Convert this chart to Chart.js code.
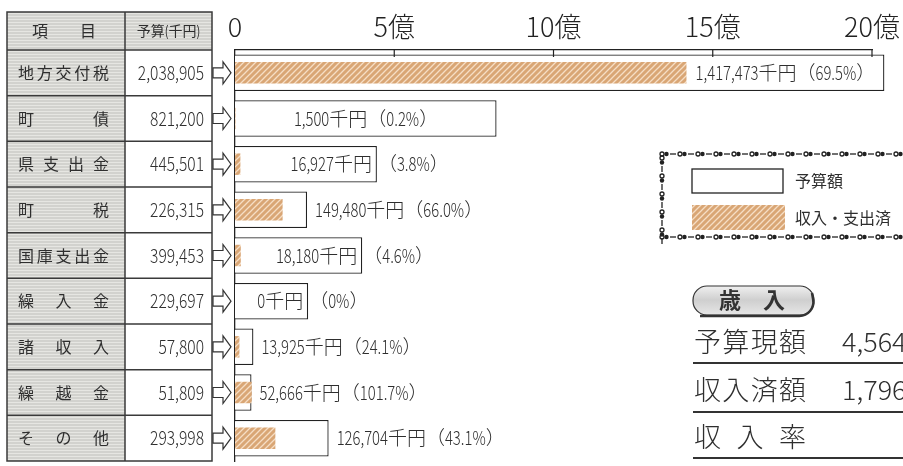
<!DOCTYPE html>
<html>
<head>
<meta charset="utf-8">
<script src="https://cdn.jsdelivr.net/npm/chart.js@4.4.0/dist/chart.umd.min.js"></script>
<style>
  html, body { margin: 0; padding: 0; background: #fff; overflow: hidden; }
</style>
</head>
<body>
<canvas id="chart" width="903" height="466"></canvas>
<script>
// 歳入 data (千円)
const categories = ['地方交付税', '町債', '県支出金', '町税', '国庫支出金', '繰入金', '諸収入', '繰越金', 'その他'];
const budget = [2038905, 821200, 445501, 226315, 399453, 229697, 57800, 51809, 293998];
const received = [1417473, 1500, 16927, 149480, 18180, 0, 13925, 52666, 126704];
const tickValues = [0, 500000, 1000000, 1500000, 2000000];
const tickLabels = ['0', '5億', '10億', '15億', '20億'];

const JP = '"Noto Sans CJK JP", sans-serif';
const INK = '#2e2e2e';

const fmt = v => v.toLocaleString('en-US');
const pct = (r, b) => r === 0 ? '0' : (r / b * 100).toFixed(1);

const canvas = document.getElementById('chart');
const ctx = canvas.getContext('2d');

// hatched tan fill for 収入済
function makeHatch() {
    const p = document.createElement('canvas');
    p.width = 6; p.height = 6;
    const g = p.getContext('2d');
    g.fillStyle = '#d9a675';
    g.fillRect(0, 0, 6, 6);
    g.strokeStyle = 'rgba(250,232,212,0.85)';
    g.lineWidth = 1.3;
    g.beginPath();
    g.moveTo(0, 6); g.lineTo(6, 0);
    g.moveTo(-3, 3); g.lineTo(3, -3);
    g.moveTo(3, 9); g.lineTo(9, 3);
    g.stroke();
    return ctx.createPattern(p, 'repeat');
}
const hatch = makeHatch();

// latin runs are squeezed horizontally, kanji kept full width
const isLatin = s => /^[\x20-\x7e]/.test(s);
function mixedWidth(c, text, sx) {
    return text.match(/[\x20-\x7e]+|[^\x20-\x7e]+/g)
        .reduce((w, p) => w + c.measureText(p).width * (isLatin(p) ? sx : 1), 0);
}
function mixed(c, text, x, y, align, sx) {
    const total = mixedWidth(c, text, sx);
    let cx = align === 'right' ? x - total : align === 'center' ? x - total / 2 : x;
    c.textAlign = 'left';
    text.match(/[\x20-\x7e]+|[^\x20-\x7e]+/g).forEach(p => {
        const w = c.measureText(p).width;
        if (isLatin(p)) {
            c.save(); c.translate(cx, y); c.scale(sx, 1); c.fillText(p, 0, 0); c.restore();
            cx += w * sx;
        } else {
            c.fillText(p, cx, y);
            cx += w;
        }
    });
    return total;
}

// spread characters evenly between x1 and x2
function spread(c, text, x1, x2, y, cw) {
    const chars = [...text];
    const step = chars.length > 1 ? (x2 - x1 - cw) / (chars.length - 1) : 0;
    c.textAlign = 'left';
    chars.forEach((ch, k) => c.fillText(ch, x1 + k * step, y));
}

function grayCell(c, x, y, w, h) {
    c.fillStyle = '#d2d2ce';
    c.fillRect(x, y, w, h);
    c.fillStyle = 'rgba(238,238,235,0.7)';
    for (let yy = y + 1; yy < y + h; yy += 3) c.fillRect(x, yy, w, 1);
}

function chainH(c, x1, x2, y) {
    for (let x = x1; x < x2; x += 18) {
        c.beginPath(); c.arc(x + 2, y, 2, 0, Math.PI * 2); c.stroke();
        c.beginPath(); c.arc(x + 6.5, y, 2.2, 0, Math.PI * 2); c.fill();
        c.beginPath(); c.moveTo(x + 10, y); c.lineTo(x + 16, y); c.stroke();
    }
}
function chainV(c, x, y1, y2) {
    for (let y = y1; y < y2; y += 18) {
        c.beginPath(); c.arc(x, y + 2, 2, 0, Math.PI * 2); c.stroke();
        c.beginPath(); c.arc(x, y + 6.5, 2.2, 0, Math.PI * 2); c.fill();
        c.beginPath(); c.moveTo(x, y + 10); c.lineTo(x, y + 16); c.stroke();
    }
}

const decor = {
    id: 'decor',
    afterDraw(chart) {
        const c = chart.ctx;
        const ca = chart.chartArea;
        const xs = chart.scales.x, ys = chart.scales.y;
        const n = categories.length;
        const pitch = (ca.bottom - ca.top) / n;
        const L = 7, M = 125, R = 212, T = 12;
        c.save();

        // left table
        grayCell(c, L, T, R - L, ca.top - T);
        grayCell(c, L, ca.top, M - L, ca.bottom - ca.top);
        c.fillStyle = '#fff';
        c.fillRect(M, ca.top, R - M, ca.bottom - ca.top);
        c.strokeStyle = '#3a3a3a';
        c.lineWidth = 1.5;
        c.strokeRect(L, T, R - L, ca.bottom - T);
        c.beginPath();
        c.moveTo(M, T); c.lineTo(M, ca.bottom);
        for (let i = 0; i < n; i++) {
            const yy = ca.top + i * pitch;
            c.moveTo(L, yy); c.lineTo(R, yy);
        }
        c.stroke();

        c.fillStyle = INK;
        c.textBaseline = 'middle';
        c.font = '16px ' + JP;
        c.textAlign = 'center';
        const hy = (T + ca.top) / 2;
        c.fillText('項', 40, hy);
        c.fillText('目', 88, hy);
        c.font = '14px ' + JP;
        mixed(c, '予算(千円)', (M + R) / 2, hy, 'center', 0.8);

        categories.forEach((name, i) => {
            const cy = ys.getPixelForValue(i);
            c.fillStyle = INK;
            c.font = '16px ' + JP;
            spread(c, name, 18, 110, cy, 17);
            c.font = '300 19px ' + JP;
            mixed(c, fmt(budget[i]), 204, cy, 'right', 0.82);

            // arrow
            c.beginPath();
            c.moveTo(213, cy - 5); c.lineTo(223, cy - 5); c.lineTo(223, cy - 11);
            c.lineTo(231, cy); c.lineTo(223, cy + 11); c.lineTo(223, cy + 5);
            c.lineTo(213, cy + 5); c.closePath();
            c.fillStyle = '#fff'; c.fill();
            c.strokeStyle = '#333'; c.lineWidth = 1.2; c.stroke();
        });

        // short tick marks under the top axis line
        c.strokeStyle = '#222';
        c.lineWidth = 1.2;
        tickValues.forEach(v => {
            if (v === 0) return;
            const px = xs.getPixelForValue(v);
            c.beginPath(); c.moveTo(px, ca.top); c.lineTo(px, ca.top + 7); c.stroke();
        });

        // value labels
        const SX = 0.78;
        c.font = '300 19px ' + JP;
        c.fillStyle = INK;
        c.textBaseline = 'middle';
        categories.forEach((name, i) => {
            const cy = ys.getPixelForValue(i);
            const xb = xs.getPixelForValue(budget[i]);
            const xr = xs.getPixelForValue(received[i]);
            const amt = fmt(received[i]) + '千円';
            const per = '（' + pct(received[i], budget[i]) + '%）';
            const W = mixedWidth(c, amt + per, SX);
            const A = mixedWidth(c, amt, SX);
            if (xb - xr >= W + 12) {
                mixed(c, amt + per, (xr + xb) / 2 - W / 2, cy, 'left', SX);
            } else if (xb - ca.left >= A + 20) {
                mixed(c, amt, xb - 5, cy, 'right', SX);
                mixed(c, per, xb + 1, cy, 'left', SX);
            } else {
                mixed(c, amt + per, xb + 8, cy, 'left', SX);
            }
        });

        // legend box
        c.strokeStyle = '#222';
        c.fillStyle = '#222';
        c.lineWidth = 1.3;
        chainH(c, 660, 910, 154);
        chainH(c, 660, 910, 237);
        chainV(c, 662, 156, 232);
        c.fillStyle = '#fff';
        c.fillRect(692, 169, 91, 24);
        c.strokeStyle = '#222';
        c.lineWidth = 1.3;
        c.strokeRect(692, 169, 91, 24);
        c.fillStyle = hatch;
        c.fillRect(692, 205, 93, 25);
        c.fillStyle = INK;
        c.font = '16px ' + JP;
        c.textAlign = 'left';
        c.fillText(chart.data.datasets[1].label, 795, 181);
        c.fillText(chart.data.datasets[0].label, 795, 218);

        // 歳入 summary
        const pill = c.createLinearGradient(0, 285, 0, 315);
        pill.addColorStop(0, '#f2f2f2');
        pill.addColorStop(0.5, '#cfcfcf');
        pill.addColorStop(1, '#e6e6e6');
        c.beginPath();
        c.moveTo(707, 286); c.lineTo(800, 286);
        c.arcTo(814, 286, 814, 300, 14); c.arcTo(814, 315, 800, 315, 14);
        c.lineTo(707, 315); c.arcTo(693, 315, 693, 300, 14); c.arcTo(693, 286, 707, 286, 14);
        c.closePath();
        c.fillStyle = pill; c.fill();
        c.strokeStyle = '#333'; c.lineWidth = 1.2; c.stroke();
        c.beginPath();
        c.moveTo(812, 293); c.arcTo(816, 316, 790, 316, 14); c.lineTo(700, 316);
        c.lineWidth = 2.5; c.stroke();
        c.fillStyle = '#333';
        c.font = 'bold 22px ' + JP;
        c.textAlign = 'center';
        c.fillText('歳　入', 752, 300);

        const totalB = budget.reduce((a, b) => a + b, 0);
        const totalR = received.reduce((a, b) => a + b, 0);
        const rows = [['予算現額', fmt(totalB) + '千円', 342, 363],
                      ['収入済額', fmt(totalR) + '千円', 390, 412],
                      ['収入率', '', 437, 458]];
        rows.forEach(([lab, val, ty, ly]) => {
            c.fillStyle = INK;
            c.font = '300 27px ' + JP;
            spread(c, lab, 694, 806, ty, 27);
            if (val) mixed(c, val, 842, ty, 'left', 1.0);
            c.strokeStyle = '#333'; c.lineWidth = 2;
            c.beginPath(); c.moveTo(693, ly); c.lineTo(903, ly); c.stroke();
        });
        c.restore();
    }
};

new Chart(ctx, {
    type: 'bar',
    data: {
        labels: categories,
        datasets: [{
            label: '収入・支出済',
            data: received,
            backgroundColor: hatch,
            borderWidth: 0,
            barPercentage: 0.47,
            categoryPercentage: 1,
            grouped: false,
            order: 1
        }, {
            label: '予算額',
            data: budget,
            backgroundColor: '#fff',
            borderColor: '#222',
            borderWidth: 1.3,
            borderSkipped: 'start',
            barPercentage: 0.8,
            categoryPercentage: 1,
            grouped: false,
            clip: false,
            order: 2
        }]
    },
    options: {
        indexAxis: 'y',
        responsive: false,
        animation: false,
        layout: { padding: { left: 235, right: 31, top: 0, bottom: 5 } },
        plugins: {
            legend: { display: false },
            tooltip: { enabled: false }
        },
        scales: {
            x: {
                position: 'top',
                min: 0,
                max: 2000000,
                afterBuildTicks: s => { s.ticks = tickValues.map(v => ({ value: v })); },
                afterFit: s => { s.height = 50; },
                ticks: {
                    callback: (v, i) => tickLabels[i],
                    font: { family: JP, size: 27, weight: '300' },
                    color: '#222',
                    padding: -1,
                    maxRotation: 0,
                    autoSkip: false
                },
                grid: { display: false },
                border: { display: true, color: '#222', width: 1.3 }
            },
            y: {
                afterFit: s => { s.width = 0; },
                ticks: { display: false },
                grid: { display: false },
                border: { display: true, color: '#222', width: 1.3 }
            }
        }
    },
    plugins: [decor]
});
</script>
</body>
</html>
